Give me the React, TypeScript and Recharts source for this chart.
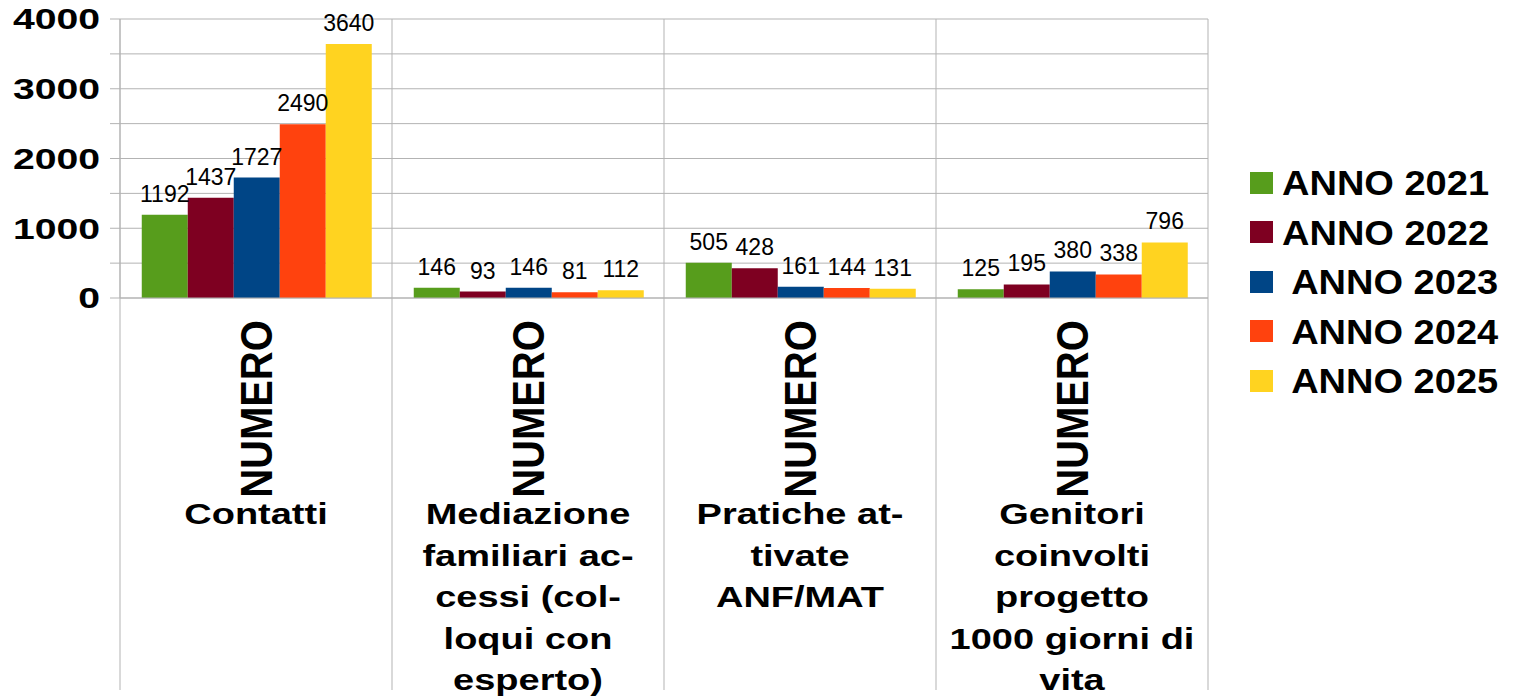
import { BarChart, Bar, XAxis, YAxis, CartesianGrid, LabelList } from "recharts"

const categories = [
  "Contatti",
  "Mediazione familiari accessi (colloqui con esperto)",
  "Pratiche attivate ANF/MAT",
  "Genitori coinvolti progetto 1000 giorni di vita"
]
// wrapped the way they show in the picture
const categoryLines = [
  ["Contatti"],
  ["Mediazione", "familiari ac-", "cessi (col-", "loqui con", "esperto)"],
  ["Pratiche at-", "tivate", "ANF/MAT"],
  ["Genitori", "coinvolti", "progetto", "1000 giorni di", "vita"]
]
const subLabel = "NUMERO"

const seriesKeys = ["a2021", "a2022", "a2023", "a2024", "a2025"]
const seriesNames = ["ANNO 2021", "ANNO 2022", " ANNO 2023", " ANNO 2024", " ANNO 2025"]
const seriesColors = ["#579d1c", "#7e0021", "#004586", "#ff420e", "#ffd320"]

const anno2021 = [1192, 146, 505, 125]
const anno2022 = [1437, 93, 428, 195]
const anno2023 = [1727, 146, 161, 380]
const anno2024 = [2490, 81, 144, 338]
const anno2025 = [3640, 112, 131, 796]

const yTicks = [0, 500, 1000, 1500, 2000, 2500, 3000, 3500, 4000]

const seriesValues = [anno2021, anno2022, anno2023, anno2024, anno2025]
const data = categories.map((name, i) => {
  const row: any = { name }
  seriesKeys.forEach((k, s) => { row[k] = seriesValues[s][i] })
  return row
})

const W = 1515
const H = 699
const M_TOP = 19
const M_RIGHT = 307
const Y_W = 120
const X_H = 401
const FONT = "'Liberation Sans', Arial, sans-serif"
const GRID = "#b3b3b3"
const HALF_BAND = (W - M_RIGHT - Y_W) / categories.length / 2

const YTick = (props: any) => {
  const { x, y, payload } = props
  if (payload.value % 1000 !== 0) return null
  return (
    <text
      transform={`translate(${x},${y}) scale(1.35,1)`}
      textAnchor="end"
      dy="0.355em"
      fontFamily={FONT}
      fontWeight="bold"
      fontSize={29}
      fill="#000"
    >
      {payload.value}
    </text>
  )
}

const XTick = (props: any) => {
  const { x, y, payload } = props
  const idx = categories.indexOf(payload.value)
  const lines = categoryLines[idx] || []
  const last = idx === categories.length - 1
  return (
    <g>
      <line x1={x - HALF_BAND} x2={x - HALF_BAND} y1={M_TOP} y2={690} stroke={GRID} />
      {last && <line x1={x + HALF_BAND} x2={x + HALF_BAND} y1={M_TOP} y2={690} stroke={GRID} />}
      <text
        transform={`translate(${x + 16},${y + 111}) rotate(-90) scale(1,1.12)`}
        textAnchor="middle"
        fontFamily={FONT}
        fontWeight="bold"
        fontSize={40}
        fill="#000"
      >
        {subLabel}
      </text>
      {lines.map((t, i) => (
        <text
          key={i}
          transform={`translate(${x},${y + 226 + i * 41.5}) scale(1.31,1)`}
          textAnchor="middle"
          fontFamily={FONT}
          fontWeight="bold"
          fontSize={29}
          fill="#000"
        >
          {t}
        </text>
      ))}
    </g>
  )
}

export default function App() {
  return (
    <div style={{ position: "absolute", left: 0, top: 0, width: W, height: H, background: "#fff" }}>
      <BarChart
        width={W}
        height={H}
        data={data}
        margin={{ top: M_TOP, right: M_RIGHT, left: 0, bottom: 0 }}
        barCategoryGap="8%"
        barGap={0}
      >
        <CartesianGrid vertical={false} stroke={GRID} />
        <XAxis
          dataKey="name"
          height={X_H}
          interval={0}
          tickLine={false}
          tickSize={0}
          tickMargin={0}
          axisLine={{ stroke: GRID }}
          tick={<XTick />}
        />
        <YAxis
          width={Y_W}
          domain={[0, 4000]}
          ticks={yTicks}
          interval={0}
          tickSize={10}
          tickMargin={10}
          tickLine={{ stroke: GRID }}
          axisLine={{ stroke: GRID }}
          tick={<YTick />}
        />
        {seriesKeys.map((k, s) => (
          <Bar key={k} dataKey={k} name={seriesNames[s]} fill={seriesColors[s]} isAnimationActive={false}>
            <LabelList
              dataKey={k}
              position="top"
              offset={13}
              fill="#000"
              style={{ fontSize: 23, fontFamily: FONT, fill: "#000" }}
            />
          </Bar>
        ))}
      </BarChart>
      <div style={{ position: "absolute", left: 1250, top: 158, fontFamily: FONT }}>
        {seriesNames.map((n, s) => (
          <div key={n} style={{ display: "flex", alignItems: "center", height: 49.5 }}>
            <div style={{ width: 23, height: 22, background: seriesColors[s], flex: "none" }} />
            <div
              style={{
                marginLeft: 9,
                fontSize: 35,
                fontWeight: "bold",
                whiteSpace: "pre",
                lineHeight: 1,
                transform: "scaleX(1.086)",
                transformOrigin: "left center"
              }}
            >
              {n}
            </div>
          </div>
        ))}
      </div>
    </div>
  )
}
